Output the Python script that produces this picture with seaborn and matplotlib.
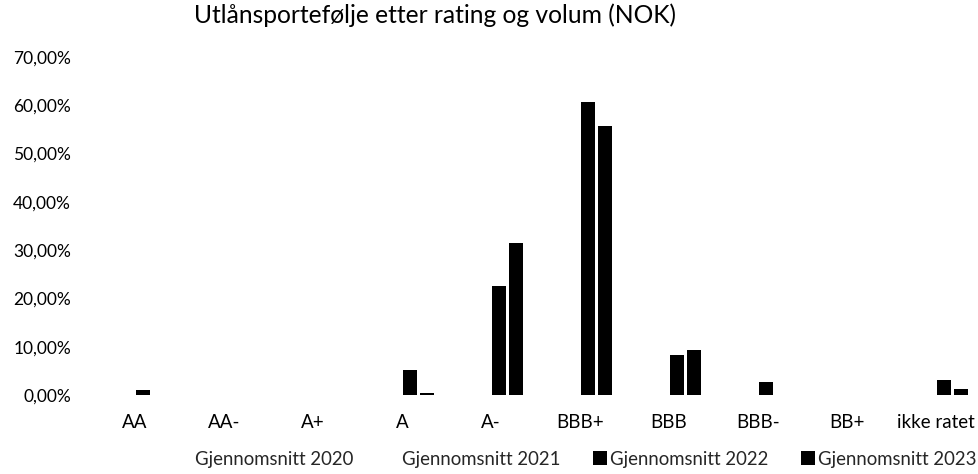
import matplotlib
matplotlib.use("Agg")
import matplotlib.pyplot as plt
from matplotlib.patches import Patch
from matplotlib.ticker import FuncFormatter, MultipleLocator
import seaborn as sns
import pandas as pd
import numpy as np

categories = ["AA", "AA-", "A+", "A", "A-", "BBB+", "BBB", "BBB-", "BB+", "ikke ratet"]
series_names = ["Gjennomsnitt 2020", "Gjennomsnitt 2021", "Gjennomsnitt 2022", "Gjennomsnitt 2023"]
avg_2020 = [0, 0, 0, 0, 0, 0, 0, 0, 0, 0]
avg_2021 = [0, 0, 0, 0, 0, 0, 0, 0, 0, 0]
avg_2022 = [0.011, 0, 0, 0.052, 0.225, 0.607, 0.083, 0.026, 0, 0.031]
avg_2023 = [0, 0, 0, 0.005, 0.315, 0.558, 0.093, 0, 0, 0.012]
title = "Utlånsportefølje etter rating og volum (NOK)"

rows = []
for name, vals in zip(series_names, [avg_2020, avg_2021, avg_2022, avg_2023]):
    for c, v in zip(categories, vals):
        rows.append({"Rating": c, "Serie": name, "Andel": v})
df = pd.DataFrame(rows)

sns.set_theme(style="white")
plt.rcParams["font.family"] = ["Lato", "DejaVu Sans"]

fig = plt.figure(figsize=(9.79, 4.74), dpi=100)
ax = fig.add_axes([90.5 / 979, 1 - 395 / 474, 890 / 979, (395 - 57) / 474])

sns.barplot(data=df, x="Rating", y="Andel", hue="Serie", order=categories,
            hue_order=series_names, palette=["black"] * 4, width=0.74, gap=0.15,
            linewidth=0, legend=False, ax=ax)

ax.set_ylim(0, 0.70)
ax.yaxis.set_major_locator(MultipleLocator(0.10))
ax.yaxis.set_major_formatter(FuncFormatter(lambda v, p: f"{v*100:.2f}%".replace(".", ",")))
ax.set_xlabel("")
ax.set_ylabel("")
for s in ax.spines.values():
    s.set_visible(False)
ax.grid(False)
ax.tick_params(axis="y", length=0, pad=14, labelsize=12.5, colors="black")
ax.tick_params(axis="x", length=0, pad=14, labelsize=13.5, colors="black")

handles = [Patch(facecolor="none", edgecolor="none"), Patch(facecolor="none", edgecolor="none"),
           Patch(facecolor="black", edgecolor="none"), Patch(facecolor="black", edgecolor="none")]
fig.legend(handles, series_names, loc="center", bbox_to_anchor=(577 / 979, 1 - 459 / 474),
           ncol=4, frameon=False, fontsize=13.4, handlelength=0.75, handleheight=0.75,
           handletextpad=0.15, columnspacing=1.75, borderaxespad=0)

fig.text(435 / 979, 1 - 15 / 474, title, ha="center", va="center", fontsize=17.7, color="black")

fig.savefig("out.png", dpi=100)
